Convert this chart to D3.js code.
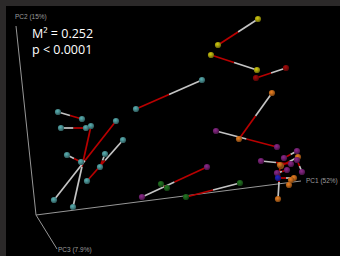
<!DOCTYPE html>
<html><head><meta charset="utf-8">
<script src="https://cdn.jsdelivr.net/npm/d3@7"></script>
<style>
html,body{margin:0;padding:0;background:#2b2929;}
svg{display:block;}
</style></head>
<body>
<svg id="c" width="340" height="256"></svg>
<script>
// ---- data (projected PCoA coordinates, procrustes pairs) ----
const startGroup = ["yellow","yellow","darkred","teal","teal","teal","teal","teal","teal","teal","teal","orange","purple","purple","green","green","purple","purple","orange","orange","purple","purple","orange","orange"];
const endGroup   = ["yellow","yellow","darkred","teal","teal","teal","teal","teal","teal","teal","teal","orange","purple","purple","green","green","purple","purple","orange","orange","purple","purple","blue","orange"];
const startX = [2.58,2.57,2.86,2.02,0.58,0.61,0.73,0.54,0.67,1.23,1.05,2.72,2.16,1.42,1.61,2.40,2.97,2.61,2.98,2.78,3.02,2.77,2.94,2.89];
const startY = [2.37,1.86,1.88,1.76,1.44,1.28,0.49,0.56,1.01,1.16,1.02,1.63,1.25,0.59,0.72,0.73,1.05,0.95,0.99,0.57,0.84,0.83,0.78,0.71];
const endX   = [2.18,2.11,2.56,1.36,0.82,0.86,0.91,1.16,0.81,0.87,1.00,2.39,2.77,2.07,1.67,1.86,2.84,2.91,2.81,2.80,2.97,2.87,2.78,2.91];
const endY   = [2.11,2.01,1.78,1.47,1.37,1.28,1.30,1.35,0.94,0.75,0.89,1.17,1.09,0.89,0.68,0.59,0.98,0.92,0.90,0.91,0.96,0.86,0.78,0.76];

const axisNames = ["PC1 (52%)","PC2 (15%)","PC3 (7.9%)"];
const axisOrigin = [0.36,0.41];
const axisEndX = [3.01,0.16,0.57];
const axisEndY = [0.75,2.30,0.07];

const statLines = ["M\u00B2 = 0.252","p < 0.0001"];

const groupColors = {teal:"#46898b",yellow:"#a39d0c",darkred:"#820808",orange:"#b8641a",purple:"#6e1f6c",green:"#1b5e1b",blue:"#1a1a9c"};

// ---- drawing ----
const W=340,H=256;
const svg=d3.select("#c");
const x=d3.scaleLinear().domain([0,3.4]).range([0,W]);
const y=d3.scaleLinear().domain([0,2.56]).range([H,0]);

svg.append("rect").attr("x",6).attr("y",6).attr("width",W-6).attr("height",H-6).attr("fill","#000");

const defs=svg.append("defs");
Object.entries(groupColors).forEach(([k,c])=>{
  const g=defs.append("radialGradient").attr("id","g-"+k).attr("cx","40%").attr("cy","35%").attr("r","65%");
  g.append("stop").attr("offset","0%").attr("stop-color",d3.color(c).brighter(0.7));
  g.append("stop").attr("offset","50%").attr("stop-color",c);
  g.append("stop").attr("offset","100%").attr("stop-color",d3.color(c).darker(1.3));
});

// axes
const ox=x(axisOrigin[0]), oy=y(axisOrigin[1]);
axisNames.forEach((n,i)=>{
  svg.append("line").attr("x1",ox).attr("y1",oy).attr("x2",x(axisEndX[i])).attr("y2",y(axisEndY[i]))
    .attr("stroke","#979797").attr("stroke-width",1);
});
const labOff=[[5,2],[-1,-7],[1,3]];
axisNames.forEach((n,i)=>{
  svg.append("text").attr("x",x(axisEndX[i])+labOff[i][0]).attr("y",y(axisEndY[i])+labOff[i][1])
    .attr("fill","#9c9c9c").attr("font-family","Liberation Sans, Arial, sans-serif").attr("font-size",6.5)
    .text(n);
});

// pair lines
const idx=d3.range(startX.length);
idx.forEach(i=>{
  const x1=x(startX[i]),y1=y(startY[i]),x2=x(endX[i]),y2=y(endY[i]);
  const mx=(x1+x2)/2,my=(y1+y2)/2;
  svg.append("line").attr("x1",x1).attr("y1",y1).attr("x2",mx).attr("y2",my)
    .attr("stroke","#c4c4c4").attr("stroke-width",1.7);
  svg.append("line").attr("x1",mx).attr("y1",my).attr("x2",x2).attr("y2",y2)
    .attr("stroke","#b80000").attr("stroke-width",1.7);
});

// spheres
idx.forEach(i=>{
  svg.append("circle").attr("cx",x(endX[i])).attr("cy",y(endY[i])).attr("r",3.1).attr("fill","url(#g-"+endGroup[i]+")");
  svg.append("circle").attr("cx",x(startX[i])).attr("cy",y(startY[i])).attr("r",3.1).attr("fill","url(#g-"+startGroup[i]+")");
});

// stats
statLines.forEach((s,i)=>{
  svg.append("text").attr("x",32).attr("y",38+i*16).attr("fill","#fff")
    .attr("font-family","Open Sans, sans-serif").attr("font-size",12.5).text(s);
});
</script>
</body></html>
